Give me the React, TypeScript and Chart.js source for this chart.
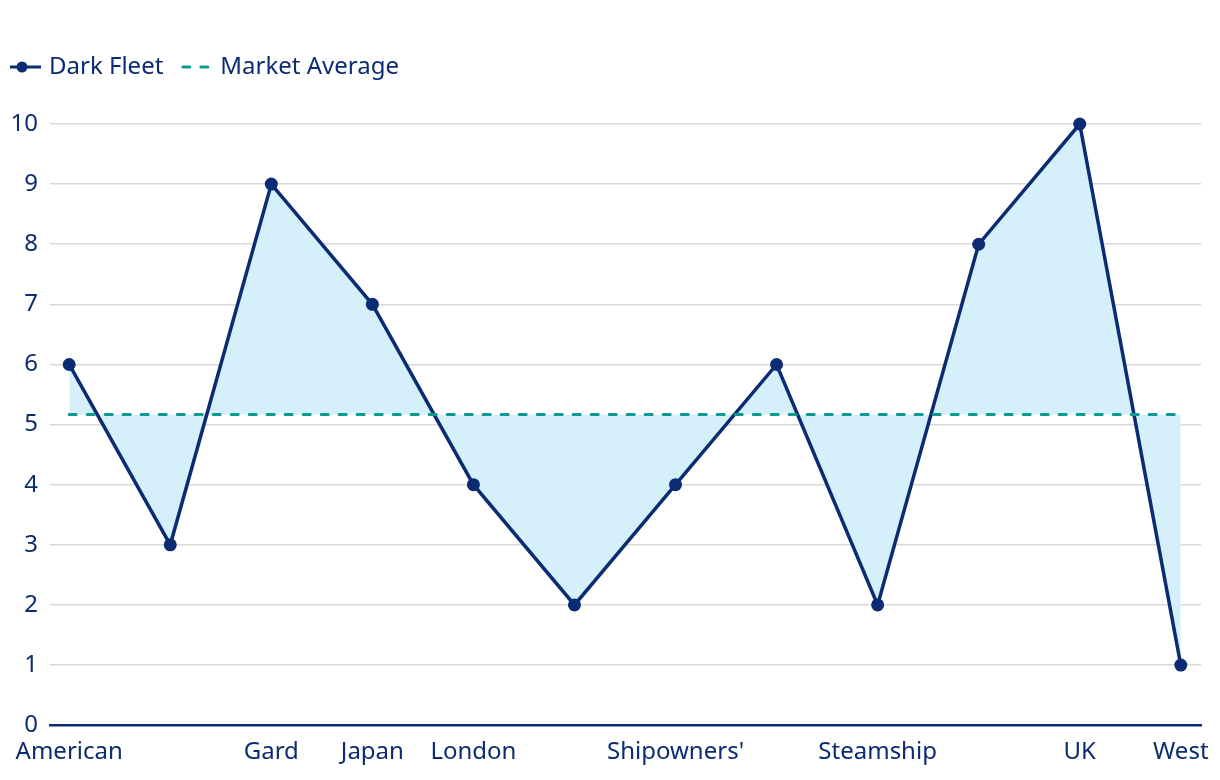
import React, { useEffect, useRef } from "react";
import { Chart, registerables } from "chart.js";

Chart.register(...registerables);

// ---- Data ----
const tickLabels: string[] = [
  "American", "", "Gard", "Japan", "London", "", "Shipowners'", "", "Steamship", "", "UK", "West",
];
const darkFleet: number[] = [6, 3, 9, 7, 4, 2, 4, 6, 2, 8, 10, 1];
const marketAverageValue: number = darkFleet.reduce((a, b) => a + b, 0) / darkFleet.length;
const marketAverage: number[] = darkFleet.map(() => marketAverageValue);
const yTicks: number[] = [0, 1, 2, 3, 4, 5, 6, 7, 8, 9, 10];

const NAVY = "#0b2c72";
const TEAL = "#0b9a90";
const FILL = "#d5f0fb";
const GRID = "#d9d9d9";
const FONT = '"Noto Sans", "Open Sans", sans-serif';

const legendPlugin = {
  id: "customLegend",
  afterDraw(chart: any) {
    const ctx = chart.ctx as CanvasRenderingContext2D;
    const ds = chart.data.datasets;
    const y = 67;
    ctx.save();
    ctx.font = `24px ${FONT}`;
    ctx.textBaseline = "middle";
    ctx.textAlign = "left";
    // Item 1: line with dot
    let x = 10;
    ctx.strokeStyle = NAVY;
    ctx.lineWidth = 3;
    ctx.beginPath();
    ctx.moveTo(x, y);
    ctx.lineTo(x + 31, y);
    ctx.stroke();
    ctx.fillStyle = NAVY;
    ctx.beginPath();
    ctx.arc(x + 12, y, 5.5, 0, Math.PI * 2);
    ctx.fill();
    ctx.fillStyle = NAVY;
    const t1 = ds[0].label as string;
    ctx.fillText(t1, x + 39, y);
    x = x + 39 + ctx.measureText(t1).width + 18;
    // Item 2: dashed line
    ctx.strokeStyle = TEAL;
    ctx.lineWidth = 3;
    ctx.lineCap = "round";
    ctx.setLineDash([7, 11]);
    ctx.beginPath();
    ctx.moveTo(x + 1.5, y);
    ctx.lineTo(x + 28, y);
    ctx.stroke();
    ctx.setLineDash([]);
    ctx.fillStyle = NAVY;
    ctx.fillText(ds[1].label as string, x + 39, y);
    ctx.restore();
  },
};

export default function App() {
  const ref = useRef<HTMLCanvasElement | null>(null);

  useEffect(() => {
    document.body.style.margin = "0";
    const canvas = ref.current;
    if (!canvas) return;
    Chart.defaults.font.family = FONT;
    Chart.defaults.color = NAVY;

    const chart = new Chart(canvas, {
      type: "line",
      data: {
        datasets: [
          {
            label: "Dark Fleet",
            data: darkFleet.map((v, i) => ({ x: i, y: v })),
            borderColor: NAVY,
            borderWidth: 3.5,
            pointRadius: 6.5,
            pointBackgroundColor: NAVY,
            pointBorderColor: NAVY,
            pointBorderWidth: 0,
            tension: 0,
            clip: false,
            fill: { target: 1 },
            backgroundColor: FILL,
            order: 1,
          },
          {
            label: "Market Average",
            data: marketAverage.map((v, i) => ({ x: i, y: v })),
            borderColor: TEAL,
            borderWidth: 3,
            borderDash: [7, 11],
            borderCapStyle: "round",
            pointRadius: 0,
            fill: false,
            order: 0,
          },
        ],
      },
      options: {
        responsive: false,
        animation: false,
        layout: { padding: { top: 124, right: 19, bottom: 0, left: 0 } },
        plugins: {
          legend: { display: false },
          tooltip: { enabled: false },
        },
        scales: {
          x: {
            type: "linear",
            min: -0.19,
            max: 11.2,
            afterBuildTicks: (axis: any) => {
              axis.ticks = tickLabels.map((_, i) => ({ value: i }));
            },
            afterFit: (axis: any) => {
              axis.paddingLeft = 0;
              axis.paddingRight = 0;
            },
            grid: { display: false, drawTicks: false },
            border: { display: true, color: NAVY, width: 2.5 },
            ticks: {
              autoSkip: false,
              maxRotation: 0,
              padding: 13,
              font: { size: 24 },
              color: NAVY,
              callback: (v: any) => tickLabels[Number(v)] ?? "",
            },
          },
          y: {
            min: 0,
            max: 10,
            afterBuildTicks: (axis: any) => {
              axis.ticks = yTicks.map((v) => ({ value: v }));
            },
            afterFit: (axis: any) => {
              axis.width = 50;
            },
            grid: { color: GRID, lineWidth: 1.5, drawTicks: false },
            border: { display: false },
            ticks: {
              padding: 12,
              font: { size: 24 },
              color: NAVY,
            },
          },
        },
      },
      plugins: [legendPlugin],
    } as any);

    return () => chart.destroy();
  }, []);

  return (
    <div style={{ width: 1220, height: 780 }}>
      <canvas ref={ref} width={1220} height={780} style={{ display: "block" }} />
    </div>
  );
}
